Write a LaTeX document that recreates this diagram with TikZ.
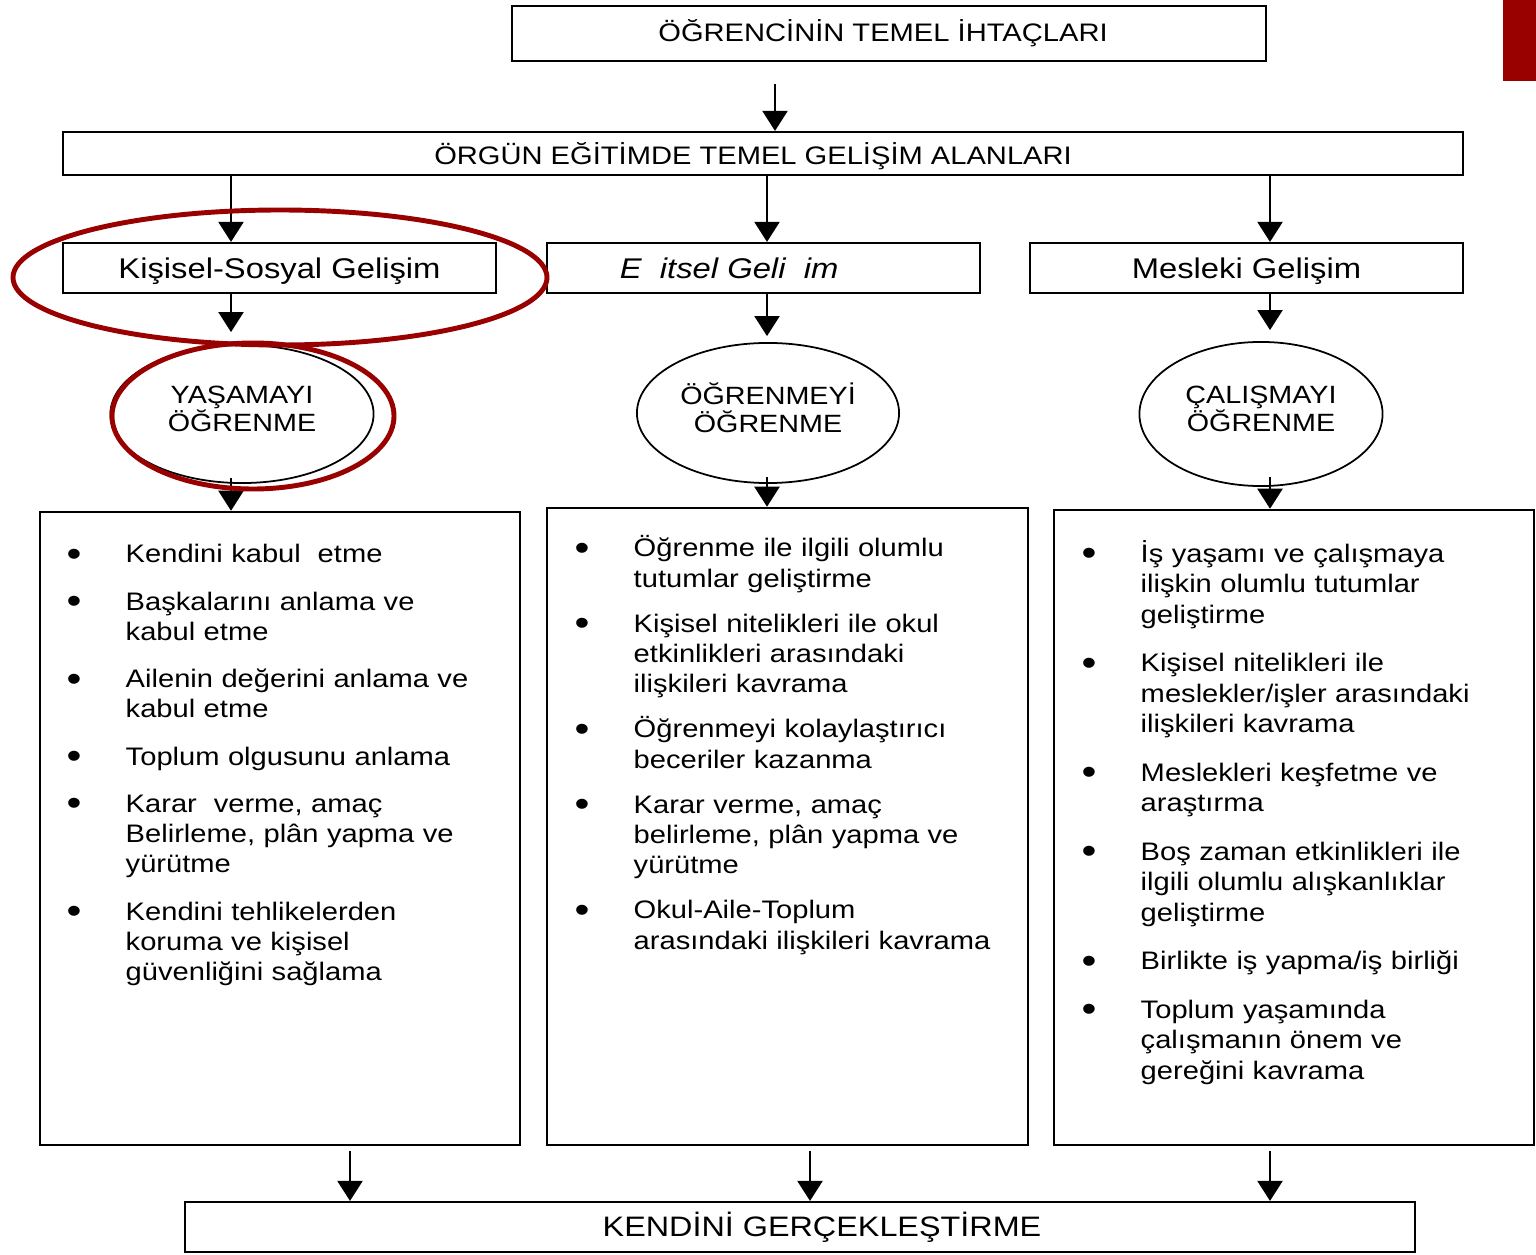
\documentclass[tikz,border=0pt]{standalone}
\usepackage{fontspec}
\setmainfont[FakeStretch=1.15]{Liberation Sans}
\usetikzlibrary{shapes.geometric,arrows.meta}
\definecolor{ringred}{RGB}{153,0,0}
\newcommand{\litem}[1]{\par\noindent\hangindent=0.59cm\hangafter=1\makebox[0.59cm][l]{\raisebox{-1pt}{\fontsize{10.5}{10.5}\selectfont\textbullet}}\strut#1\par}

\begin{document}
\begin{tikzpicture}[x=0.01cm, y=0.01cm]
\tikzstyle{every node}+=[inner sep=0pt]
\tikzstyle{plainbox}=[draw, rectangle, line width=0.6pt]
\tikzstyle{areabox}=[plainbox, minimum width=4.33cm, minimum height=0.5cm, text depth=0pt, font=\fontsize{8.1}{9.7}\selectfont]
\tikzstyle{goalbubble}=[draw, ellipse, line width=0.5pt, align=center, text depth=3pt, font=\fontsize{7.1}{8}\selectfont]
\tikzstyle{itemtext}=[anchor=north west, text width=4.4cm, font=\fontsize{7.2}{8.62}\selectfont]
\tikzstyle{flowarrow}=[line width=0.6pt, -{Triangle[width=0.25cm,length=0.2cm]}]
\tikzstyle{highlight}=[draw=ringred, line width=1.4pt]
\useasboundingbox (0,0) rectangle (1536,-1255);
\fill [ringred] (1503,0) rectangle (1536,-81);
% top rows
\node [plainbox, minimum width=7.54cm, minimum height=0.55cm, font=\fontsize{7.2}{8.6}\selectfont] (needs) at (889,-33.5) {\hspace*{-0.12cm}ÖĞRENCİNİN TEMEL İHTAÇLARI};
\node [plainbox, minimum width=14cm, minimum height=0.43cm, text depth=0pt, font=\fontsize{7.2}{8.6}\selectfont] (areas) at (763,-153.5) {\hspace*{-0.2cm}ÖRGÜN EĞİTİMDE TEMEL GELİŞİM ALANLARI};
\node [areabox] (social) at (279.5,-268) {Kişisel-Sosyal Gelişim};
\node [areabox] (school) at (763.5,-268) {\makebox[2.87cm][l]{\itshape E~~itsel Geli~~im}};
\node [areabox] (career) at (1246.5,-268) {Mesleki Gelişim};
% learning goals
\node [goalbubble, minimum width=2.63cm, minimum height=1.38cm] (living) at (242,-414) {YAŞAMAYI\\ÖĞRENME};
\node [goalbubble, minimum width=2.62cm, minimum height=1.40cm] (learning) at (768,-413) {ÖĞRENMEYİ\\ÖĞRENME};
\node [goalbubble, minimum width=2.43cm, minimum height=1.44cm] (working) at (1261,-414) {ÇALIŞMAYI\\ÖĞRENME};
% lists
\node [plainbox, minimum width=4.80cm, minimum height=6.33cm] (listA) at (280,-828.5) {};
\node [plainbox, minimum width=4.81cm, minimum height=6.37cm] (listB) at (787.5,-826.5) {};
\node [plainbox, minimum width=4.80cm, minimum height=6.35cm] (listC) at (1294,-827.5) {};
\node [itemtext] (textA) at (66,-515) {\setlength{\parskip}{4.8pt}%
\litem{Kendini kabul~ etme}
\litem{Başkalarını anlama ve\newline kabul etme}
\litem{Ailenin değerini anlama ve\newline kabul etme}
\litem{Toplum olgusunu anlama}
\litem{Karar~ verme, amaç\newline Belirleme, plân yapma ve\newline yürütme}
\litem{Kendini tehlikelerden\newline koruma ve kişisel\newline güvenliğini sağlama}};
\node [itemtext] (textB) at (574,-511) {\setlength{\parskip}{4.2pt}%
\litem{Öğrenme ile ilgili olumlu\newline tutumlar geliştirme}
\litem{Kişisel nitelikleri ile okul\newline etkinlikleri arasındaki\newline ilişkileri kavrama}
\litem{Öğrenmeyi kolaylaştırıcı\newline beceriler kazanma}
\litem{Karar verme, amaç\newline belirleme, plân yapma ve\newline yürütme}
\litem{Okul-Aile-Toplum\newline arasındaki ilişkileri kavrama}};
\node [itemtext, font=\fontsize{7.2}{8.68}\selectfont] (textC) at (1081,-513) {\setlength{\parskip}{5.1pt}%
\litem{İş yaşamı ve çalışmaya\newline ilişkin olumlu tutumlar\newline geliştirme}
\litem{Kişisel nitelikleri ile\newline meslekler/işler arasındaki\newline ilişkileri kavrama}
\litem{Meslekleri keşfetme ve\newline araştırma}
\litem{Boş zaman etkinlikleri ile\newline ilgili olumlu alışkanlıklar\newline geliştirme}
\litem{Birlikte iş yapma/iş birliği}
\litem{Toplum yaşamında\newline çalışmanın önem ve\newline gereğini kavrama}};
\node [plainbox, minimum width=12.30cm, minimum height=0.50cm, font=\fontsize{8}{9.6}\selectfont] (self) at (800,-1227) {\hspace*{0.44cm}KENDİNİ GERÇEKLEŞTİRME};
% arrow columns
\coordinate (colA) at (231,0);
\coordinate (colB) at (767,0);
\coordinate (colC) at (1270,0);
\coordinate (colT) at (775,0);
\coordinate (colL) at (350,0);
\coordinate (colM) at (810,0);
\draw [flowarrow, shorten <=0.22cm] (needs.south -| colT) -- (areas.north -| colT);
\draw [flowarrow] (areas.south -| colA) -- (social.north -| colA);
\draw [flowarrow] (areas.south -| colB) -- (school.north -| colB);
\draw [flowarrow] (areas.south -| colC) -- (career.north -| colC);
\draw [flowarrow, shorten >=0.12cm] (social.south -| colA) -- (living.north -| colA);
\draw [flowarrow, shorten >=0.06cm] (school.south -| colB) -- (learning.north -| colB);
\draw [flowarrow, shorten >=0.11cm] (career.south -| colC) -- (working.north -| colC);
\draw [flowarrow, shorten <=-0.06cm] (living.south -| colA) -- (listA.north -| colA);
\draw [flowarrow, shorten <=-0.07cm] (learning.south -| colB) -- (listB.north -| colB);
\draw [flowarrow, shorten <=-0.1cm] (working.south -| colC) -- (listC.north -| colC);
\draw [flowarrow, shorten <=0.05cm] (listA.south -| colL) -- (self.north -| colL);
\draw [flowarrow, shorten <=0.05cm] (listB.south -| colM) -- (self.north -| colM);
\draw [flowarrow, shorten <=0.05cm] (listC.south -| colC) -- (self.north -| colC);
% red marks
\draw [highlight] (280,-277.5) ellipse (267 and 67.5);
\draw [highlight] (253,-416) ellipse (141 and 73);
\end{tikzpicture}
\end{document}
